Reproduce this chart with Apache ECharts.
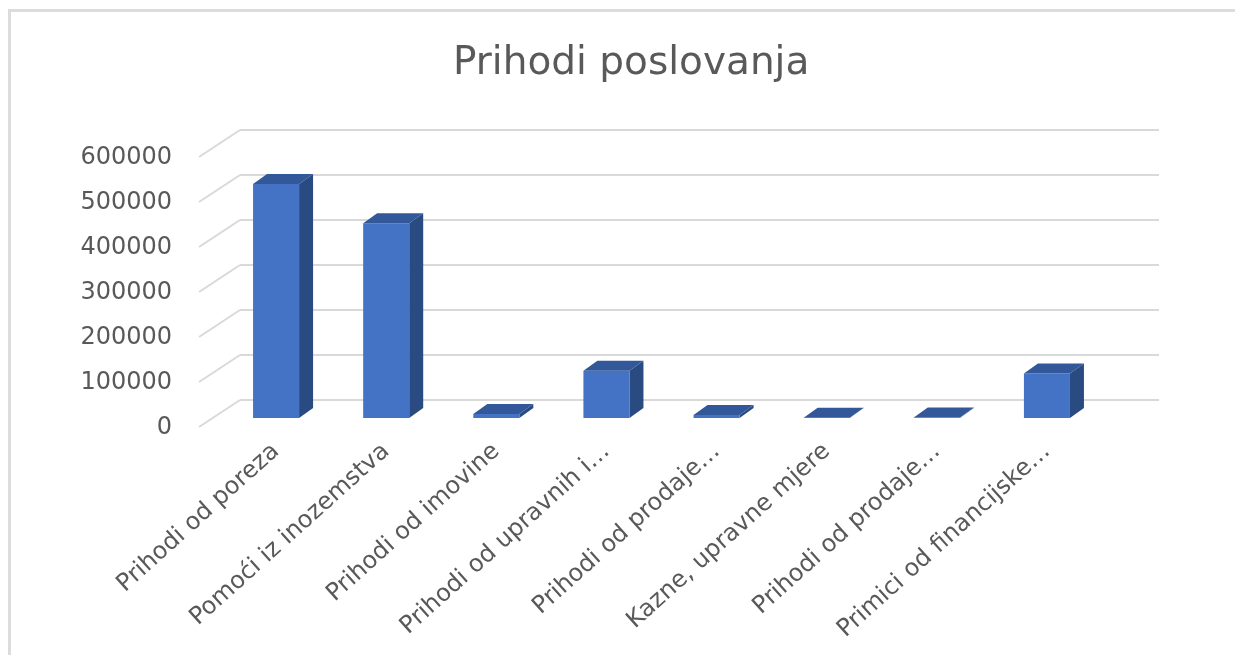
<!DOCTYPE html>
<html>
<head>
<meta charset="utf-8">
<script src="https://cdn.jsdelivr.net/npm/echarts@6/dist/echarts.min.js"></script>
<style>
html,body{margin:0;padding:0;background:#fff;}
#chart{width:1235px;height:655px;}
</style>
</head>
<body>
<div id="chart"></div>
<script>
// ---- data ----
const categories = [
  'Prihodi od poreza',
  'Pomoći iz inozemstva',
  'Prihodi od imovine',
  'Prihodi od upravnih i…',
  'Prihodi od prodaje…',
  'Kazne, upravne mjere',
  'Prihodi od prodaje…',
  'Primici od financijske…'
];
const values = [520000, 433000, 9000, 105000, 6500, 800, 1200, 99000];
const yTicks = [0, 100000, 200000, 300000, 400000, 500000, 600000];
const titleText = 'Prihodi poslovanja';

// ---- style constants ----
const DX = 14, DY = -10;          // bar depth offset
const WALL_DX = -41, WALL_DY = 27; // floor/side wall offset
const GRID_COLOR = '#d9d9d9';
const TEXT_COLOR = '#595959';

const chart = echarts.init(document.getElementById('chart'), null, {renderer: 'canvas'});

const option = {
  backgroundColor: '#ffffff',
  animation: false,
  title: {
    text: titleText,
    left: 448,
    top: 39,
    textStyle: {fontFamily: 'DejaVu Sans', fontSize: 39, fontWeight: 'normal', color: TEXT_COLOR}
  },
  graphic: [{
    type: 'rect',
    shape: {x: 9.5, y: 10.5, width: 1400, height: 800},
    style: {fill: 'none', stroke: '#dcdcdc', lineWidth: 3},
    silent: true
  }],
  grid: [
    // back wall (gridlines)
    {left: 240, right: 76, top: 130, bottom: 255, containLabel: false, outerBoundsMode: 'none'},
    // front plane (value labels)
    {left: 200, right: 116, top: 158, bottom: 227, containLabel: false, outerBoundsMode: 'none'},
    // bar front faces
    {left: 221, right: 133, top: 148, bottom: 237, containLabel: false, outerBoundsMode: 'none'}
  ],
  xAxis: [
    {gridIndex: 0, type: 'category', data: categories, show: false},
    {gridIndex: 1, type: 'category', data: categories, show: false},
    {
      gridIndex: 2, type: 'category', data: categories,
      axisLine: {show: false}, axisTick: {show: false},
      axisLabel: {
        rotate: 42, interval: 0, margin: 30, hideOverlap: false,
        fontFamily: 'DejaVu Sans', fontSize: 24, color: TEXT_COLOR
      }
    }
  ],
  yAxis: [
    {
      gridIndex: 0, type: 'value', min: 0, max: 600000, interval: 100000,
      axisLine: {show: false}, axisTick: {show: false}, axisLabel: {show: false},
      splitLine: {show: true, lineStyle: {color: GRID_COLOR, width: 2}}
    },
    {
      gridIndex: 1, type: 'value', min: 0, max: 600000, interval: 100000,
      axisLine: {show: false}, axisTick: {show: false}, splitLine: {show: false},
      axisLabel: {
        margin: 28, fontFamily: 'DejaVu Sans', fontSize: 24, color: TEXT_COLOR,
        formatter: v => String(v)
      }
    },
    {
      gridIndex: 2, type: 'value', min: 0, max: 600000, interval: 100000,
      show: false, splitLine: {show: false}
    }
  ],
  series: [
    {
      // side-wall floor diagonals
      type: 'custom',
      xAxisIndex: 0, yAxisIndex: 0,
      clip: false, silent: true,
      data: yTicks.map(v => [0, v]),
      encode: {x: 0, y: 1},
      renderItem: function (params, api) {
        const p = api.coord([0, api.value(1)]);
        const x = params.coordSys.x;
        return {
          type: 'line',
          shape: {x1: x, y1: p[1], x2: x + WALL_DX, y2: p[1] + WALL_DY},
          style: {stroke: GRID_COLOR, lineWidth: 2}
        };
      }
    },
    {
      // 3D bars
      type: 'custom',
      xAxisIndex: 2, yAxisIndex: 2,
      clip: false, silent: true,
      data: values.map((v, i) => [i, v]),
      encode: {x: 0, y: 1},
      renderItem: function (params, api) {
        const idx = api.value(0), v = api.value(1);
        const base = api.coord([idx, 0]);
        const top = api.coord([idx, v]);
        const w = api.size([1, 0])[0] * 0.418;
        const x0 = base[0] - w / 2, x1 = base[0] + w / 2;
        const yb = base[1], yt = top[1];
        return {
          type: 'group',
          children: [
            {
              type: 'polygon',
              shape: {points: [[x1, yt], [x1 + DX, yt + DY], [x1 + DX, yb + DY], [x1, yb]]},
              style: {fill: '#2a4b82'}
            },
            {
              type: 'rect',
              shape: {x: x0, y: yt, width: w, height: yb - yt},
              style: {fill: '#4472c4'}
            },
            {
              type: 'polygon',
              shape: {points: [[x0, yt], [x1, yt], [x1 + DX, yt + DY], [x0 + DX, yt + DY]]},
              style: {fill: '#32589a'}
            }
          ]
        };
      }
    }
  ]
};
chart.setOption(option);
</script>
</body>
</html>
